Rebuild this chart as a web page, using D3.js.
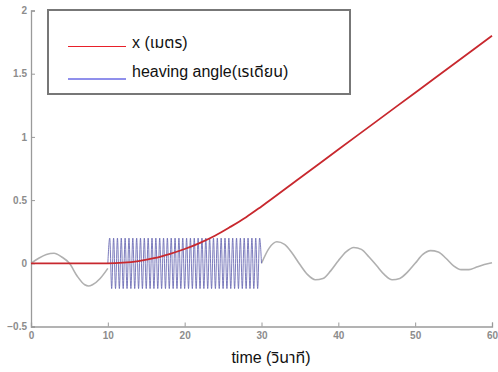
<!DOCTYPE html>
<html>
<head>
<meta charset="utf-8">
<script src="https://cdn.jsdelivr.net/npm/d3@7"></script>
<style>
  body { margin: 0; background: #fff; }
  .tick text { font-family: "Liberation Sans", Arial, sans-serif; font-weight: bold; fill: #8c8c8c; font-size: 10px; }
  .label { font-family: "Liberation Sans", Arial, "Noto Sans Thai", sans-serif; fill: #111; }
</style>
</head>
<body>
<script>
(function() {

    // red: x (metres)
    var redT = [0, 10, 12, 14, 16, 18, 20, 22, 24, 26, 28, 30, 35, 40, 45, 50, 55, 60];
    var redV = [0, 0, 0.005, 0.018, 0.04, 0.073, 0.113, 0.162, 0.22, 0.29, 0.365, 0.45, 0.675, 0.9, 1.125, 1.35, 1.575, 1.8];

    // gray: free response before and after the forcing
    var grayT1 = [0, 1, 2, 3, 4, 5, 6, 7, 7.5, 8, 9, 10];
    var grayV1 = [0, 0.04, 0.07, 0.08, 0.05, 0, -0.1, -0.17, -0.18, -0.17, -0.12, -0.04];
    var grayT2 = [30, 31, 32, 33, 34, 35, 36, 37, 38, 39, 40, 41, 42, 43, 44, 45, 46, 47, 48, 49, 50, 51, 52, 53, 54, 55, 56, 57, 58, 59, 60];
    var grayV2 = [0, 0.12, 0.17, 0.15, 0.08, -0.01, -0.09, -0.13, -0.12, -0.06, 0.02, 0.09, 0.125, 0.11, 0.05, -0.02, -0.09, -0.13, -0.12, -0.07, 0, 0.07, 0.1, 0.09, 0.04, -0.02, -0.05, -0.05, -0.03, -0.01, 0.005];

    // blue: heaving angle, peaks every 0.25 s between 10 and 30 s
    var blueStart = 10, blueStep = 0.25;
    var blueV = [0,
        0.2, -0.2, 0.2, -0.2, 0.2, -0.2, 0.2, -0.2, 0.2, -0.2, 0.2, -0.2, 0.2, -0.2, 0.2, -0.2, 0.2, -0.2, 0.2, -0.2,
        0.2, -0.2, 0.2, -0.2, 0.2, -0.2, 0.2, -0.2, 0.2, -0.2, 0.2, -0.2, 0.2, -0.2, 0.2, -0.2, 0.2, -0.2, 0.2, -0.2,
        0.2, -0.2, 0.2, -0.2, 0.2, -0.2, 0.2, -0.2, 0.2, -0.2, 0.2, -0.2, 0.2, -0.2, 0.2, -0.2, 0.2, -0.2, 0.2, -0.2,
        0.2, -0.2, 0.2, -0.2, 0.2, -0.2, 0.2, -0.2, 0.2, -0.2, 0.2, -0.2, 0.2, -0.2, 0.2, -0.2, 0.2, -0.2, 0.2, 0];

    var xTicks = [0, 10, 20, 30, 40, 50, 60];
    var yTicks = [-0.5, 0, 0.5, 1, 1.5, 2];
    var legendLabels = ["x (เมตร)", "heaving angle(เรเดียน)"];
    var xTitle = "time (วินาที)";

    var width = 498, height = 372;

    var svg = d3.select("body").append("svg")
        .attr("width", width)
        .attr("height", height);

    var x = d3.scaleLinear().domain([0, 60]).range([31, 492]);
    var y = d3.scaleLinear().domain([-0.5, 2]).range([326.5, 10.5]);

    var xAxis = svg.append("g")
        .attr("transform", "translate(0,326.5)")
        .call(d3.axisBottom(x).tickValues(xTicks).tickSize(-4).tickPadding(5));
    var yAxis = svg.append("g")
        .attr("transform", "translate(31,0)")
        .call(d3.axisLeft(y).tickValues(yTicks).tickSize(-4).tickPadding(4).tickFormat(d3.format("")));

    [xAxis, yAxis].forEach(function(g) {
        g.select(".domain").attr("stroke", "#9a9a9a").attr("stroke-width", 1.3);
        g.selectAll(".tick line").attr("stroke", "#9a9a9a");
    });

    function zip(ts, vs) {
        return ts.map(function(t, i) { return [t, vs[i]]; });
    }

    var smooth = d3.line()
        .x(function(d) { return x(d[0]); })
        .y(function(d) { return y(d[1]); })
        .curve(d3.curveMonotoneX);

    [zip(grayT1, grayV1), zip(grayT2, grayV2)].forEach(function(seg) {
        svg.append("path")
            .attr("d", smooth(seg))
            .attr("fill", "none")
            .attr("stroke", "#b0b0b0")
            .attr("stroke-width", 1.6);
    });

    var bluePts = blueV.map(function(v, i) { return [blueStart + i * blueStep, v]; });
    svg.append("path")
        .attr("d", smooth(bluePts))
        .attr("fill", "none")
        .attr("stroke", "#6c6cb4")
        .attr("stroke-width", 0.9);

    svg.append("path")
        .attr("d", smooth(zip(redT, redV)))
        .attr("fill", "none")
        .attr("stroke", "#c8282e")
        .attr("stroke-width", 1.8);

    // legend
    var legend = svg.append("g");
    legend.append("rect")
        .attr("x", 48).attr("y", 10)
        .attr("width", 302).attr("height", 84)
        .attr("fill", "#fff")
        .attr("stroke", "#777")
        .attr("stroke-width", 2);

    var legendColors = ["#e8202a", "#2020d8"];
    var legendY = [46.5, 79];
    var textY = [47.5, 76.5];
    legendLabels.forEach(function(lab, i) {
        legend.append("line")
            .attr("x1", 68).attr("x2", 126)
            .attr("y1", legendY[i]).attr("y2", legendY[i])
            .attr("stroke", legendColors[i])
            .attr("stroke-width", 1);
        legend.append("text")
            .attr("class", "label")
            .attr("x", 132)
            .attr("y", textY[i])
            .attr("font-size", "16px")
            .text(lab);
    });

    svg.append("text")
        .attr("class", "label")
        .attr("x", 271)
        .attr("y", 363)
        .attr("text-anchor", "middle")
        .attr("font-size", "16px")
        .text(xTitle);

})();
</script>
</body>
</html>
